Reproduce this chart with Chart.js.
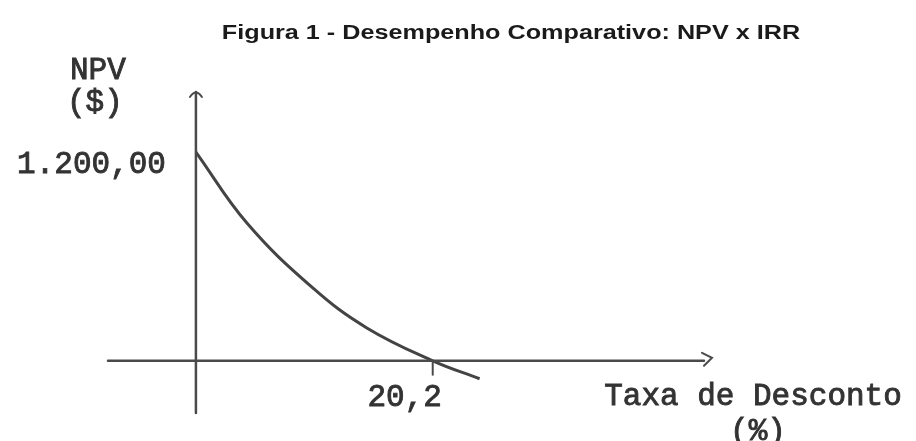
<!DOCTYPE html>
<html>
<head>
<meta charset="utf-8">
<script src="https://cdn.jsdelivr.net/npm/chart.js@4"></script>
<style>
	html, body { margin: 0; padding: 0; background: #fff; }
	#wrap { width: 916px; height: 441px; }
</style>
</head>
<body>
<div id="wrap"><canvas id="myChart" width="916" height="441"></canvas></div>
<script>
const rates = [0, 4.35, 9.97, 14.58, 20.2, 24.2];
const npvValues = [1200, 792, 419, 189, 0, -103];
const irrValue = 20.2;
const npvLabel = "1.200,00";
const irrLabel = "20,2";
const titleText = "Figura 1 - Desempenho Comparativo: NPV x IRR";

const mono = "'Liberation Mono', 'DejaVu Sans Mono', monospace";
const ink = "#4a4a4a";

// typewriter-ish text: fill plus a thin stroke to thicken it
function typeText(ctx, text, x, y) {
	ctx.fillText(text, x, y);
	ctx.strokeText(text, x, y);
}

// axes, arrows and labels drawn by hand, placed through the chart scales
const sketchAxes = {
	id: "sketchAxes",
	afterDatasetsDraw(chart) {
		const { ctx, chartArea, scales } = chart;
		const x0 = scales.x.getPixelForValue(0);
		const y0 = scales.y.getPixelForValue(0);
		const yTop = scales.y.getPixelForValue(1200);
		const xIrr = scales.x.getPixelForValue(irrValue);

		ctx.save();
		ctx.strokeStyle = ink;
		ctx.lineWidth = 2.5;
		ctx.lineCap = "round";

		// x axis + arrow
		ctx.beginPath();
		ctx.moveTo(chartArea.left, y0);
		ctx.lineTo(chartArea.right + 4, y0);
		ctx.stroke();
		ctx.lineWidth = 2;
		ctx.beginPath();
		ctx.moveTo(chartArea.right + 2, y0 - 8);
		ctx.lineTo(chartArea.right + 12, y0 - 3);
		ctx.lineTo(chartArea.right + 4, y0 + 5);
		ctx.stroke();

		// y axis + arrow
		ctx.lineWidth = 2.5;
		ctx.beginPath();
		ctx.moveTo(x0, chartArea.bottom);
		ctx.lineTo(x0, chartArea.top);
		ctx.stroke();
		ctx.lineWidth = 2;
		ctx.beginPath();
		ctx.moveTo(x0 - 6, chartArea.top + 5);
		ctx.quadraticCurveTo(x0, chartArea.top - 4, x0 + 6, chartArea.top + 5);
		ctx.stroke();

		// tick at the IRR
		ctx.beginPath();
		ctx.moveTo(xIrr, y0);
		ctx.lineTo(xIrr, y0 + 14);
		ctx.stroke();

		// title, stretched wide like the scan
		ctx.fillStyle = "#1a1a1a";
		ctx.textAlign = "center";
		ctx.textBaseline = "middle";
		ctx.save();
		ctx.translate(511, 33);
		ctx.scale(1.26, 1);
		ctx.font = "bold 20px 'Liberation Sans', Arial, sans-serif";
		ctx.fillText(titleText, 0, 0);
		ctx.restore();

		ctx.font = "31px " + mono;
		ctx.fillStyle = "#333";
		ctx.strokeStyle = "#333";
		ctx.lineWidth = 0.9;
		typeText(ctx, "NPV", x0 - 98, 71);
		typeText(ctx, "($)", x0 - 101, 103);
		ctx.textAlign = "right";
		typeText(ctx, npvLabel, x0 - 30, yTop + 13);
		ctx.textAlign = "center";
		typeText(ctx, irrLabel, xIrr - 28, y0 + 37);
		typeText(ctx, "Taxa de Desconto", 753, y0 + 36);
		typeText(ctx, "(%)", 758, y0 + 71);
		ctx.restore();
	},
};

const ctx = document.getElementById("myChart");

new Chart(ctx, {
	type: "line",
	data: {
		datasets: [
			{
				data: rates.map((r, i) => ({ x: r, y: npvValues[i] })),
				borderColor: "#444",
				borderWidth: 3,
				pointRadius: 0,
				tension: 0.4,
				fill: false,
			},
		],
	},
	options: {
		responsive: false,
		animation: false,
		layout: { padding: { left: 108, right: 216, top: 92, bottom: 28 } },
		scales: {
			x: { type: "linear", min: -7.5, max: 43, display: false },
			y: { type: "linear", min: -300, max: 1545, display: false },
		},
		plugins: {
			legend: { display: false },
			title: { display: false },
			tooltip: { enabled: false },
		},
	},
	plugins: [sketchAxes],
});
</script>
</body>
</html>
